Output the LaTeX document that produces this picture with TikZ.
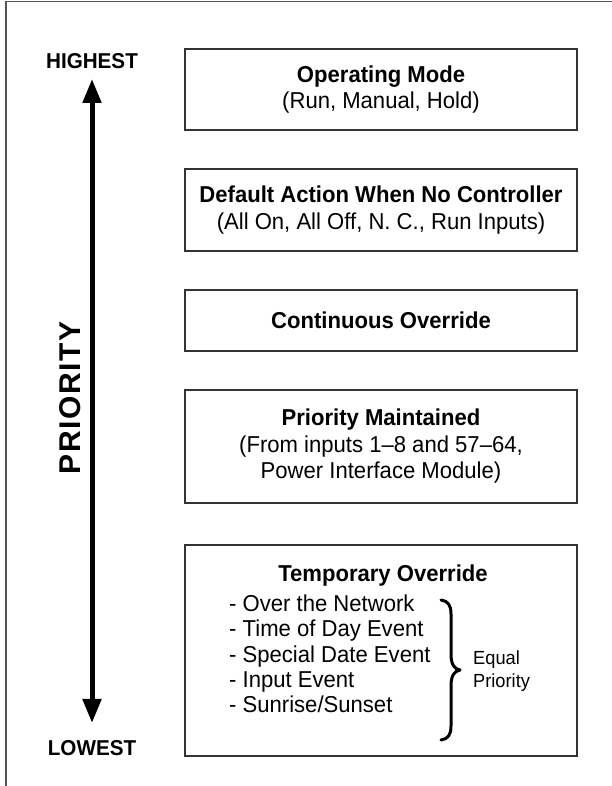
\documentclass[tikz,border=0pt]{standalone}
\usepackage{fontspec}
\setmainfont{Liberation Sans}[FakeStretch=0.96]
\newfontfamily\axisfont{Liberation Sans}[LetterSpace=5]
\usetikzlibrary{arrows.meta}
\definecolor{boxline}{HTML}{333333}
\definecolor{frameline}{HTML}{555555}
\begin{document}
\begin{tikzpicture}[x=1pt,y=1pt,
  prbox/.style={draw=boxline,line width=1.2pt,minimum width=392pt,inner sep=0pt,align=center,
    font=\fontsize{23}{26.5}\selectfont},
  endlabel/.style={font=\bfseries\fontsize{21.5}{25}\selectfont,anchor=base,inner sep=0pt},
  item/.style={font=\fontsize{23}{25}\selectfont,anchor=base west,inner sep=0pt},
  eq/.style={font=\fontsize{19}{22}\selectfont,anchor=base west,inner sep=0pt}]
\useasboundingbox (0,0) rectangle (612,786);
% frame
\coordinate (fa) at (6,0);
\coordinate (fb) at (6,784.5);
\coordinate (fc) at (612,784.5);
\draw[frameline,line width=1.3pt] (fa) -- (fb) -- (fc);
% priority axis
\node[endlabel] (hi) at (92,717) {HIGHEST};
\node[endlabel] (lo) at (92,30) {LOWEST};
\coordinate (atop) at (92,707);
\coordinate (abot) at (92,63);
\draw[line width=5pt,{Triangle[length=24pt,width=18pt]}-{Triangle[length=24pt,width=18pt]}] (abot) -- (atop);
\node[rotate=90,font=\axisfont\bfseries\fontsize{30}{30}\selectfont,inner sep=0pt] (prio) at (70,388) {PRIORITY};
% boxes
\node[prbox,minimum height=81pt] (b1) at (381,696.5) {\textbf{Operating Mode}\\(Run, Manual, Hold)};
\node[prbox,minimum height=82pt] (b2) at (381,576) {\textbf{Default Action When No Controller}\\(All On, All Off, N. C., Run Inputs)};
\node[prbox,minimum height=61pt] (b3) at (381,465.5) {\textbf{Continuous Override}};
\node[prbox,minimum height=113pt] (b4) at (381,339.5) {\textbf{Priority Maintained}\\(From inputs 1--8 and 57--64,\\Power Interface Module)};
\node[prbox,minimum height=211pt] (b5) at (381,135.5) {};
\node[anchor=base,inner sep=0pt,font=\bfseries\fontsize{23}{25}\selectfont] (t5) at (383,204) {Temporary Override};
\node[item] (i1) at (229,174) {- Over the Network};
\node[item] (i2) at (229,149) {- Time of Day Event};
\node[item] (i3) at (229,123.5) {- Special Date Event};
\node[item] (i4) at (229,98) {- Input Event};
\node[item] (i5) at (229,73) {- Sunrise/Sunset};
% brace
\coordinate (brt) at (441,186);
\coordinate (brm) at (460,116);
\coordinate (brb) at (441,46);
\draw[line width=3pt,line cap=round,line join=round]
  (brt) .. controls (448,185) and (451,181) .. (451,172) -- (451,132)
  .. controls (451,122) and (454,117) .. (brm)
  .. controls (454,115) and (451,110) .. (451,100) -- (451,60)
  .. controls (451,51) and (448,47) .. (brb);
\node[eq] (e1) at (473,121) {Equal};
\node[eq] (e2) at (473,98) {Priority};
\end{tikzpicture}
\end{document}
